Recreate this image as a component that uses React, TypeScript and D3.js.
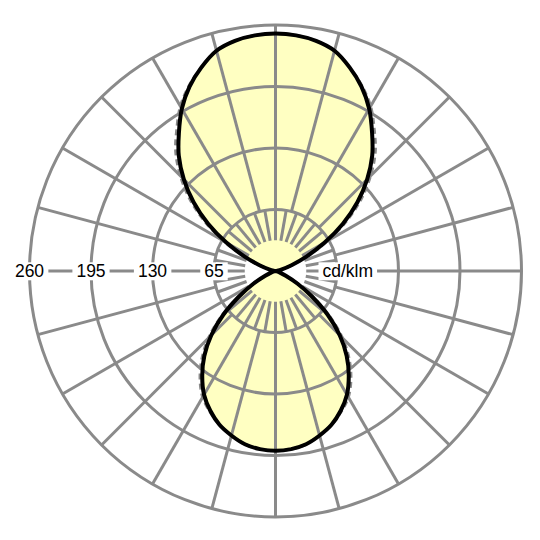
import React, { useEffect, useRef } from "react";
import * as d3 from "d3";

// angle from the lobe axis (0 = straight down for the lower lobe, straight up for the upper lobe)
const lobeAngles = [0, 5, 10, 15, 20, 25, 30, 35, 40, 45, 50, 55, 60, 65, 70, 75, 80, 85, 90];

// C0-C180 plane, cd/klm
const downC0 = [190, 189, 186, 180, 173, 163, 151, 135, 117, 96, 72, 47, 27, 12, 5, 1.5, 0.5, 0, 0];
const upC0 = [251, 250, 247, 241, 229, 215, 198, 178, 159, 137, 113, 87, 60, 36, 18, 7, 2, 0.5, 0];

// C90-C270 plane, cd/klm (dashed)
const downC90 = [190, 189, 186, 180, 173, 164, 154, 139, 121, 100, 75, 49, 28, 12, 5, 1.5, 0.5, 0, 0];
const upC90 = [251, 250, 247, 241, 229, 216, 201, 182, 164, 142, 118, 91, 63, 38, 19, 7, 2, 0.5, 0];

const ringValues = [65, 130, 195, 260];
const ringLabels = ["65", "130", "195", "260"];
const unitLabel = "cd/klm";

const GRID = "#8a8a8a";
const FILL = "#ffffc2";
const FONT = "'Liberation Sans', Arial, sans-serif";

const deg = Math.PI / 180;

function lobePoints(down: number[], up: number[]): [number, number][] {
  const n = lobeAngles.length;
  const pts: [number, number][] = [];
  // right side, bottom -> top
  for (let i = 0; i < n; i++) pts.push([Math.PI - lobeAngles[i] * deg, down[i]]);
  for (let i = n - 2; i >= 0; i--) pts.push([lobeAngles[i] * deg, up[i]]);
  // left side, top -> bottom
  for (let i = 1; i < n; i++) pts.push([-lobeAngles[i] * deg, up[i]]);
  for (let i = n - 2; i >= 1; i--) pts.push([-(Math.PI - lobeAngles[i] * deg), down[i]]);
  return pts;
}

export default function App() {
  const svgRef = useRef<SVGSVGElement>(null);

  useEffect(() => {
    if (!svgRef.current) return;
    const svg = d3.select(svgRef.current);
    svg.selectAll("*").remove();

    const cx = 275.5;
    const cy = 271;
    const R = 246;
    const r = d3.scaleLinear().domain([0, 260]).range([0, R]);

    const g = svg.append("g").attr("transform", `translate(${cx},${cy})`);

    const line = d3
      .lineRadial<[number, number]>()
      .angle((d) => d[0])
      .radius((d) => r(d[1]))
      .curve(d3.curveCatmullRomClosed.alpha(0.5));

    // fill of the main curve
    g.append("path").attr("d", line(lobePoints(downC0, upC0))).attr("fill", FILL).attr("stroke", "none");

    // rings
    g.selectAll("circle.ring")
      .data(ringValues)
      .enter()
      .append("circle")
      .attr("r", (d) => r(d))
      .attr("fill", "none")
      .attr("stroke", GRID)
      .attr("stroke-width", 3);

    // inner spokes every 10 deg, outer spokes every 15 deg
    const spoke = (a: number, r0: number, r1: number) => {
      const s = Math.sin(a * deg);
      const c = -Math.cos(a * deg);
      g.append("line")
        .attr("x1", r(r0) * s)
        .attr("y1", r(r0) * c)
        .attr("x2", r(r1) * s)
        .attr("y2", r(r1) * c)
        .attr("stroke", GRID)
        .attr("stroke-width", 3);
    };
    d3.range(0, 360, 10).forEach((a) => spoke(a, ringValues[0] / 2, ringValues[0]));
    d3.range(0, 360, 15).forEach((a) => spoke(a, ringValues[0], ringValues[ringValues.length - 1]));

    // C90 dashed curve
    g.append("path")
      .attr("d", line(lobePoints(downC90, upC90)))
      .attr("fill", "none")
      .attr("stroke", GRID)
      .attr("stroke-width", 3)
      .attr("stroke-dasharray", "6,4");

    // C0 curve
    g.append("path")
      .attr("d", line(lobePoints(downC0, upC0)))
      .attr("fill", "none")
      .attr("stroke", "#000")
      .attr("stroke-width", 4)
      .attr("stroke-linejoin", "round");

    // labels with white backgrounds
    const addLabel = (text: string, x: number, anchor: string) => {
      const lg = g.append("g");
      const t = lg
        .append("text")
        .attr("x", x)
        .attr("y", 0)
        .attr("dy", "0.36em")
        .attr("text-anchor", anchor)
        .style("font-family", FONT)
        .style("font-size", "17.5px")
        .attr("fill", "#000")
        .text(text);
      const bb = (t.node() as SVGTextElement).getBBox();
      lg.insert("rect", "text")
        .attr("x", bb.x - 4)
        .attr("y", bb.y + 1)
        .attr("width", bb.width + 8)
        .attr("height", bb.height - 2)
        .attr("fill", "#fff");
    };
    ringValues.forEach((v, i) => addLabel(ringLabels[i], -r(v), "middle"));
    addLabel(unitLabel, 47, "start");
  }, []);

  return (
    <svg
      ref={svgRef}
      width={540}
      height={540}
      style={{ position: "absolute", left: 0, top: 0, background: "#fff" }}
    />
  );
}
